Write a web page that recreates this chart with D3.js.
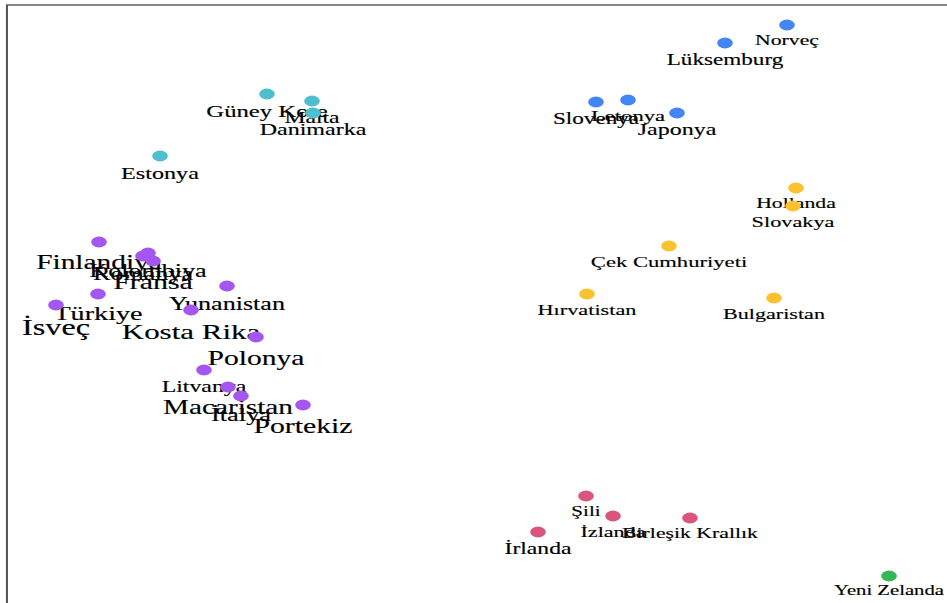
<!DOCTYPE html>
<html>
<head>
<meta charset="utf-8">
<script src="https://cdn.jsdelivr.net/npm/d3@7"></script>
<style>
  html, body { margin: 0; padding: 0; background: #fff; overflow: hidden; }
</style>
</head>
<body>
<div id="chart"></div>
<script>
// Page size and the drawing space (the picture is stretched sideways)
var pageWidth = 947;
var pageHeight = 603;
var viewWidth = 653;
var viewHeight = 603;

// Countries, in drawing order
var countries = ["Norveç", "Lüksemburg", "Slovenya", "Letonya", "Japonya",
  "Güney Kore", "Malta", "Danimarka", "Estonya",
  "Hollanda", "Slovakya", "Çek Cumhuriyeti", "Hırvatistan", "Bulgaristan",
  "Şili", "İzlanda", "Birleşik Krallık", "İrlanda",
  "Yeni Zelanda",
  "Finlandiya", "Romanya", "Kolombiya", "Fransa", "Türkiye", "İsveç",
  "Yunanistan", "Kosta Rika", "Polonya", "Litvanya", "Macaristan", "İtalya", "Portekiz"];

// Cluster of each country
var clusters = [1, 1, 1, 1, 1,
  2, 2, 2, 2,
  3, 3, 3, 3, 3,
  4, 4, 4, 4,
  5,
  6, 6, 6, 6, 6, 6, 6, 6, 6, 6, 6, 6, 6];

// Two map dimensions
var dim1 = [787, 725, 596, 628, 677,
  267, 312, 313, 160,
  796, 793, 669, 587, 774,
  586, 613, 690, 538,
  889,
  99, 143, 148, 153, 98, 56,
  227, 191, 256, 204, 228, 241, 303];

var dim2 = [25, 43, 102, 100, 113,
  94, 101, 113, 156,
  188, 206, 246, 294, 298,
  496, 516, 518, 532,
  576,
  242, 256, 253, 261, 294, 305,
  286, 310, 337, 370, 387, 396, 405];

// Label weight of each country
var weights = [25, 33, 33, 30, 38,
  42, 36, 38, 39,
  25, 28, 30, 28, 27,
  21, 27, 25, 36,
  19,
  69, 50, 50, 72, 62, 85,
  50, 78, 70, 37, 68, 52, 71];

var clusterColors = ["#4285F4", "#4DBFCF", "#FCC12F", "#D9557C", "#34B853", "#A656F0"];

var data = countries.map(function (c, i) {
  return { name: c, cluster: clusters[i], x: dim1[i], y: dim2[i], w: weights[i] };
});

// svg wrapper
var svg = d3.select("#chart")
  .append("svg")
  .attr("width", pageWidth)
  .attr("height", pageHeight)
  .attr("viewBox", `0 0 ${viewWidth} ${viewHeight}`)
  .attr("preserveAspectRatio", "none")
  .style("display", "block");

// frame
svg.append("rect")
  .attr("x", 4.8)
  .attr("y", 5)
  .attr("width", viewWidth + 20)
  .attr("height", viewHeight + 20)
  .attr("fill", "none")
  .attr("stroke", "#555")
  .attr("stroke-width", 1.4);

// Scales
var xScale = d3.scaleLinear()
  .domain([0, 947])
  .range([0, viewWidth]);

var yScale = d3.scaleLinear()
  .domain([0, 603])
  .range([0, viewHeight]);

var colorScale = d3.scaleOrdinal()
  .domain([1, 2, 3, 4, 5, 6])
  .range(clusterColors);

var fontScale = d3.scaleLinear()
  .domain([0, 100])
  .range([12, 24]);

// one group per country: dot + label
var nodes = svg.selectAll(".node")
  .data(data)
  .enter()
  .append("g")
  .attr("class", "node")
  .attr("transform", d => `translate(${xScale(d.x)}, ${yScale(d.y)})`);

nodes.append("circle")
  .attr("r", 5.4)
  .attr("fill", d => colorScale(d.cluster));

nodes.append("text")
  .attr("dy", "1.35em")
  .style("font-family", "'Times New Roman', 'Liberation Serif', serif")
  .style("font-size", d => fontScale(d.w) + "px")
  .style("text-anchor", "middle")
  .style("fill", "#000")
  .style("stroke", "#000")
  .style("stroke-width", 0.15)
  .text(d => d.name);
</script>
</body>
</html>
